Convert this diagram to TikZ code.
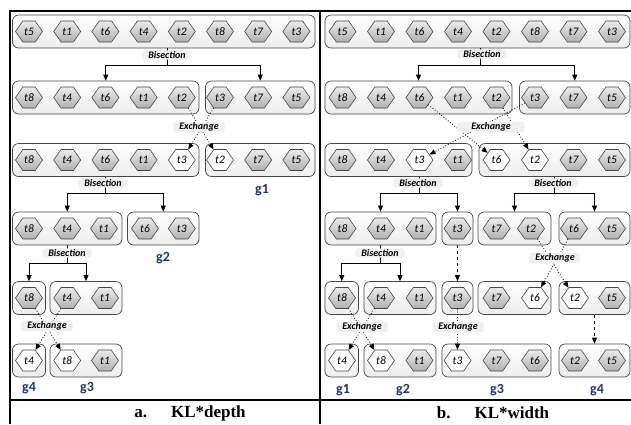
\documentclass[tikz,border=0pt]{standalone}
\usepackage{fontspec}
\setmainfont{Carlito}
\newfontfamily\capfont{Liberation Serif}
\usetikzlibrary{shapes.symbols,arrows.meta,calc}
\definecolor{gtxt}{RGB}{32,56,110}
\tikzset{
 hx/.style={signal, signal to=east and west, signal pointer angle=110,
   minimum width=27pt, minimum height=21pt, inner sep=0pt,
   draw=gray!55!black, top color=gray!15, bottom color=gray!62, line width=0.6pt,
   font=\fontsize{11.5}{12}\selectfont\itshape},
 hw/.style={hx, top color=white, bottom color=white},
 grp/.style={draw=gray!55!black, rounded corners=6pt, top color=white, bottom color=gray!14,
   line width=0.7pt, inner sep=0pt, minimum height=33pt},
 lbl/.style={font=\fontsize{10}{11}\selectfont\bfseries\itshape, fill=gray!12, rounded corners=3pt,
   inner xsep=6pt, inner ysep=1pt},
 gl/.style={font=\fontsize{14}{15}\selectfont\bfseries, text=gtxt},
 capt/.style={font=\capfont\fontsize{17}{19}\selectfont\bfseries},
 bar/.style={line width=0.8pt},
 bis/.style={line width=0.8pt, -{Triangle[length=6pt,width=5pt]}},
 exch/.style={dotted, line width=0.8pt, -{Triangle[length=6pt,width=5pt]}},
 dsh/.style={dashed, line width=0.7pt, -{Triangle[length=6pt,width=5pt]}},
 frame/.style={line width=2pt}
}
\newcommand\gbox[4]{\node[grp, minimum width={#3-#2}] (#1) at ({(#2+#3)/2},#4) {};}
\begin{document}
\begin{tikzpicture}[x=1pt,y=-1pt]
\useasboundingbox (0,0) rectangle (631,424);
% frame
\draw[frame] (9.5,424) -- (9.5,10.5) -- (631,10.5);
\draw[frame] (319.5,10.5) -- (319.5,424);
\draw[frame] (9.5,400) -- (631,400);

% ================= panel a =================
\gbox{a1}{12.5}{315}{31.5}
\gbox{a2l}{12.5}{199}{97.5}
\gbox{a2r}{205.5}{315}{97.5}
\gbox{a3l}{12.5}{199}{160}
\gbox{a3r}{205.5}{315}{160}
\gbox{a4l}{12.5}{122}{228.5}
\gbox{a4r}{127.5}{199}{228.5}
\gbox{a5l}{12.5}{45.5}{298}
\gbox{a5r}{50}{122}{298}
\gbox{a6l}{12.5}{45.5}{360.5}
\gbox{a6r}{50}{122}{360.5}

% row 1
\node[hx] (a1t5) at (29,31.5) {t5};
\node[hx] (a1t1) at (67.2,31.5) {t1};
\node[hx] (a1t6) at (105.4,31.5) {t6};
\node[hx] (a1t4) at (143.6,31.5) {t4};
\node[hx] (a1t2) at (181.8,31.5) {t2};
\node[hx] (a1t8) at (220,31.5) {t8};
\node[hx] (a1t7) at (258.2,31.5) {t7};
\node[hx] (a1t3) at (296.4,31.5) {t3};
% row 2
\node[hx] (a2t8) at (29,97.5) {t8};
\node[hx] (a2t4) at (67.2,97.5) {t4};
\node[hx] (a2t6) at (105.4,97.5) {t6};
\node[hx] (a2t1) at (143.6,97.5) {t1};
\node[hx] (a2t2) at (181.8,97.5) {t2};
\node[hx] (a2t3) at (220,97.5) {t3};
\node[hx] (a2t7) at (258.2,97.5) {t7};
\node[hx] (a2t5) at (296.4,97.5) {t5};
% row 3
\node[hx] (a3t8) at (29,160) {t8};
\node[hx] (a3t4) at (67.2,160) {t4};
\node[hx] (a3t6) at (105.4,160) {t6};
\node[hx] (a3t1) at (143.6,160) {t1};
\node[hw] (a3t3) at (181.8,160) {t3};
\node[hw] (a3t2) at (220,160) {t2};
\node[hx] (a3t7) at (258.2,160) {t7};
\node[hx] (a3t5) at (296.4,160) {t5};
% row 4
\node[hx] (a4t8) at (29,228.5) {t8};
\node[hx] (a4t4) at (67.2,228.5) {t4};
\node[hx] (a4t1) at (104,228.5) {t1};
\node[hx] (a4t6) at (145,228.5) {t6};
\node[hx] (a4t3) at (181.8,228.5) {t3};
% row 5
\node[hx] (a5t8) at (29,298) {t8};
\node[hx] (a5t4) at (67.2,298) {t4};
\node[hx] (a5t1) at (105,298) {t1};
% row 6
\node[hw] (a6t4) at (29,360.5) {t4};
\node[hw] (a6t8) at (67.2,360.5) {t8};
\node[hx] (a6t1) at (105,360.5) {t1};

% bisections panel a
\coordinate (ja1) at (167,65);
\draw[bar] (a1.south -| ja1) -- (ja1);
\draw[bis] (ja1) -| (a2l.north);
\draw[bis] (ja1) -| (a2r.north);
\node[lbl] (la1) at (167,55) {Bisection};
\coordinate (ja2) at (105.5,193);
\draw[bar] (a3l.south -| ja2) -- (ja2);
\draw[bis] (ja2) -| (a4l.north);
\draw[bis] (ja2) -| (a4r.north);
\node[lbl] (la2) at (103,183) {Bisection};
\coordinate (ja3) at (67,263);
\draw[bar] (a4l.south -| ja3) -- (ja3);
\draw[bis] (ja3) -| (a5l.north);
\draw[bis] (ja3) -| (a5r.north);
\node[lbl] (la3) at (67,253) {Bisection};
% exchanges panel a
\draw[exch] (a2t2) -- (a3t2);
\draw[exch] (a2t3) -- (a3t3);
\node[lbl] (lx1) at (199,127) {Exchange};
\draw[exch] (a5t8) -- (a6t8);
\draw[exch] (a5t4) -- (a6t4);
\node[lbl] (lx2) at (47,326) {Exchange};
% group labels a
\node[gl] (ag1) at (262,190) {g1};
\node[gl] (ag2) at (163,258) {g2};
\node[gl] (ag4) at (29,388) {g4};
\node[gl] (ag3) at (87,388) {g3};
\node[capt] (capa) at (190,413) {a.\hspace{24pt}KL*depth};

% ================= panel b =================
\gbox{b1}{325}{630}{31.5}
\gbox{b2l}{325}{512}{97.5}
\gbox{b2r}{519.5}{630}{97.5}
\gbox{b3l}{325}{472}{160}
\gbox{b3r}{479}{630}{160}
\gbox{b4a}{325}{436}{228.5}
\gbox{b4b}{442}{473}{228.5}
\gbox{b4c}{478}{551}{228.5}
\gbox{b4d}{559}{630}{228.5}
\gbox{b5a}{325}{358.5}{298}
\gbox{b5b}{364}{436}{298}
\gbox{b5c}{442}{473}{298}
\gbox{b5d}{478}{551}{298}
\gbox{b5e}{559}{630}{298}
\gbox{b6a}{325}{358.5}{360.5}
\gbox{b6b}{364}{436}{360.5}
\gbox{b6c}{442}{551}{360.5}
\gbox{b6d}{559}{630}{360.5}

% row 1
\node[hx] (b1t5) at (342.5,31.5) {t5};
\node[hx] (b1t1) at (381,31.5) {t1};
\node[hx] (b1t6) at (419.5,31.5) {t6};
\node[hx] (b1t4) at (458,31.5) {t4};
\node[hx] (b1t2) at (496.5,31.5) {t2};
\node[hx] (b1t8) at (535,31.5) {t8};
\node[hx] (b1t7) at (573.5,31.5) {t7};
\node[hx] (b1t3) at (612,31.5) {t3};
% row 2
\node[hx] (b2t8) at (342.5,97.5) {t8};
\node[hx] (b2t4) at (381,97.5) {t4};
\node[hx] (b2t6) at (419.5,97.5) {t6};
\node[hx] (b2t1) at (458,97.5) {t1};
\node[hx] (b2t2) at (496.5,97.5) {t2};
\node[hx] (b2t3) at (535,97.5) {t3};
\node[hx] (b2t7) at (573.5,97.5) {t7};
\node[hx] (b2t5) at (612,97.5) {t5};
% row 3
\node[hx] (b3t8) at (342.5,160) {t8};
\node[hx] (b3t4) at (381,160) {t4};
\node[hw] (b3t3) at (419.5,160) {t3};
\node[hx] (b3t1) at (458,160) {t1};
\node[hw] (b3t6) at (496.5,160) {t6};
\node[hw] (b3t2) at (535,160) {t2};
\node[hx] (b3t7) at (573.5,160) {t7};
\node[hx] (b3t5) at (612,160) {t5};
% row 4
\node[hx] (b4t8) at (342.5,228.5) {t8};
\node[hx] (b4t4) at (381,228.5) {t4};
\node[hx] (b4t1) at (419.5,228.5) {t1};
\node[hx] (b4t3) at (457.5,228.5) {t3};
\node[hx] (b4t7) at (496.5,228.5) {t7};
\node[hx] (b4t2) at (531,228.5) {t2};
\node[hx] (b4t6) at (574,228.5) {t6};
\node[hx] (b4t5) at (612,228.5) {t5};
% row 5
\node[hx] (b5t8) at (342,298) {t8};
\node[hx] (b5t4) at (381,298) {t4};
\node[hx] (b5t1) at (419.5,298) {t1};
\node[hx] (b5t3) at (457.5,298) {t3};
\node[hx] (b5t7) at (496.5,298) {t7};
\node[hw] (b5t6) at (535,298) {t6};
\node[hw] (b5t2) at (575,298) {t2};
\node[hx] (b5t5) at (612,298) {t5};
% row 6
\node[hw] (b6t4) at (342,360.5) {t4};
\node[hw] (b6t8) at (381,360.5) {t8};
\node[hx] (b6t1) at (419.5,360.5) {t1};
\node[hw] (b6t3) at (457.5,360.5) {t3};
\node[hx] (b6t7) at (496.5,360.5) {t7};
\node[hx] (b6t6) at (535,360.5) {t6};
\node[hx] (b6t2) at (575,360.5) {t2};
\node[hx] (b6t5) at (612,360.5) {t5};

% bisections panel b
\coordinate (jb1) at (480,65);
\draw[bar] (b1.south -| jb1) -- (jb1);
\draw[bis] (jb1) -| (b2l.north);
\draw[bis] (jb1) -| (b2r.north);
\node[lbl] (lb1) at (482,54) {Bisection};
\coordinate (jb2) at (419.5,193);
\draw[bar] (b3l.south -| jb2) -- (jb2);
\draw[bis] (jb2) -| (b4a.north);
\draw[bis] (jb2) -| (b4b.north);
\node[lbl] (lb2) at (418,183) {Bisection};
\coordinate (jb3) at (554.5,193);
\draw[bar] (b3r.south -| jb3) -- (jb3);
\draw[bis] (jb3) -| (b4c.north);
\draw[bis] (jb3) -| (b4d.north);
\node[lbl] (lb3) at (553,183) {Bisection};
\coordinate (jb4) at (380.5,263);
\draw[bar] (b4a.south -| jb4) -- (jb4);
\draw[bis] (jb4) -| (b5a.north);
\draw[bis] (jb4) -| (b5b.north);
\node[lbl] (lb4) at (380,253) {Bisection};
% dashed moves
\draw[dsh] (b4b.south) -- (b5c.north);
\draw[dsh] (b5e.south) -- (b6d.north);
% exchanges panel b
\draw[exch] (b2t6) -- (b3t6);
\draw[exch] (b2t3) -- (b3t3);
\draw[exch] (b2t2) -- (b3t2);
\node[lbl, inner xsep=14pt] (lx3) at (491,127) {Exchange};
\draw[exch] (b4t2) -- (b5t2);
\draw[exch] (b4t6) -- (b5t6);
\node[lbl] (lx4) at (555,258) {Exchange};
\draw[exch] (b5t8) -- (b6t8);
\draw[exch] (b5t4) -- (b6t4);
\node[lbl] (lx5) at (362,327) {Exchange};
\draw[exch] (b5t3) -- (b6t3);
\node[lbl] (lx6) at (458,327) {Exchange};
% group labels b
\node[gl] (bg1) at (343,390) {g1};
\node[gl] (bg2) at (403,390) {g2};
\node[gl] (bg3) at (497,390) {g3};
\node[gl] (bg4) at (597,390) {g4};
\node[capt] (capb) at (493,413) {b.\hspace{24pt}KL*width};
\end{tikzpicture}
\end{document}
